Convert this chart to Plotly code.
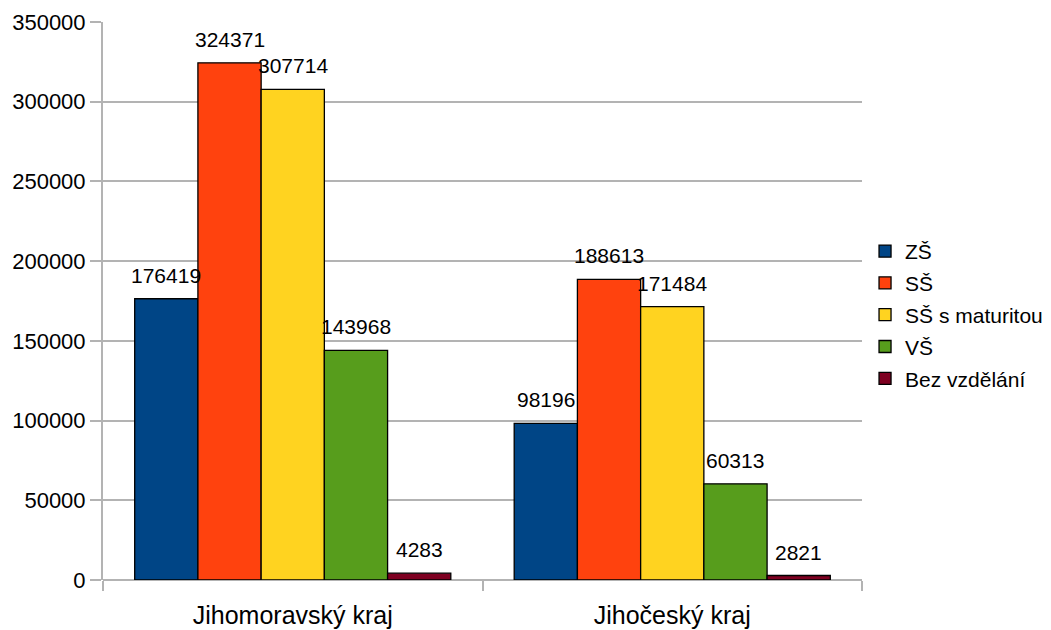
import plotly.graph_objects as go

# Population by highest completed education in two Czech regions
regions = ["Jihomoravský kraj", "Jihočeský kraj"]
series_names = ["ZŠ", "SŠ", "SŠ s maturitou", "VŠ", "Bez vzdělání"]
zs = [176419, 98196]
ss = [324371, 188613]
ss_mat = [307714, 171484]
vs = [143968, 60313]
bez = [4283, 2821]
y_ticks = [0, 50000, 100000, 150000, 200000, 250000, 300000, 350000]

colors = ["#004586", "#ff420e", "#ffd320", "#579d1c", "#7e0021"]
values = [zs, ss, ss_mat, vs, bez]

W, H = 1051, 630
margin = dict(l=103, r=189, t=22, b=50, autoexpand=False)
bargap = 0.167
font_family = "Liberation Sans, Arial, sans-serif"

fig = go.Figure()
for name, vals, col in zip(series_names, values, colors):
    fig.add_trace(go.Bar(
        name=name, x=regions, y=vals, legendgroup=name,
        marker=dict(color=col, line=dict(color="#000000", width=1.3)),
    ))

# value labels above each bar, centred on its bar
plot_w = W - margin["l"] - margin["r"]
cat_w = plot_w / len(regions)
bar_w = cat_w * (1 - bargap) / len(series_names)
for i, vals in enumerate(values):
    for reg, v in zip(regions, vals):
        fig.add_annotation(
            x=reg, y=v, text=str(v), showarrow=False,
            xanchor="center", yanchor="bottom",
            xshift=(i - (len(series_names) - 1) / 2) * bar_w, yshift=10,
            font=dict(size=21, color="#000000", family=font_family),
        )

fig.update_layout(
    width=W, height=H, margin=margin,
    barmode="group", bargap=bargap, bargroupgap=0,
    paper_bgcolor="white", plot_bgcolor="white",
    font=dict(family=font_family, size=21, color="#000000"),
    showlegend=True,
    # legend placed just right of the plotting area
    legend=dict(
        x=1.004, y=0.475, xanchor="left", yanchor="middle",
        font=dict(size=21, color="#000000"),
        itemwidth=30, tracegroupgap=1.5,
        bgcolor="rgba(0,0,0,0)",
    ),
)
fig.update_xaxes(
    showline=False, showgrid=False, tickson="boundaries",
    ticks="outside", ticklen=10, tickwidth=2, tickcolor="#b3b3b3",
    ticklabelstandoff=18,
    tickfont=dict(size=25, color="#000000"),
)
fig.update_yaxes(
    range=[0, 350000], tickvals=y_ticks, ticktext=[str(t) for t in y_ticks],
    showgrid=True, gridcolor="#b3b3b3", gridwidth=2,
    zeroline=True, zerolinecolor="#b3b3b3", zerolinewidth=2,
    showline=True, linecolor="#b3b3b3", linewidth=2,
    ticks="outside", ticklen=11, tickwidth=2, tickcolor="#b3b3b3",
    tickfont=dict(size=22, color="#000000"),
)

fig.write_html("out.html")
